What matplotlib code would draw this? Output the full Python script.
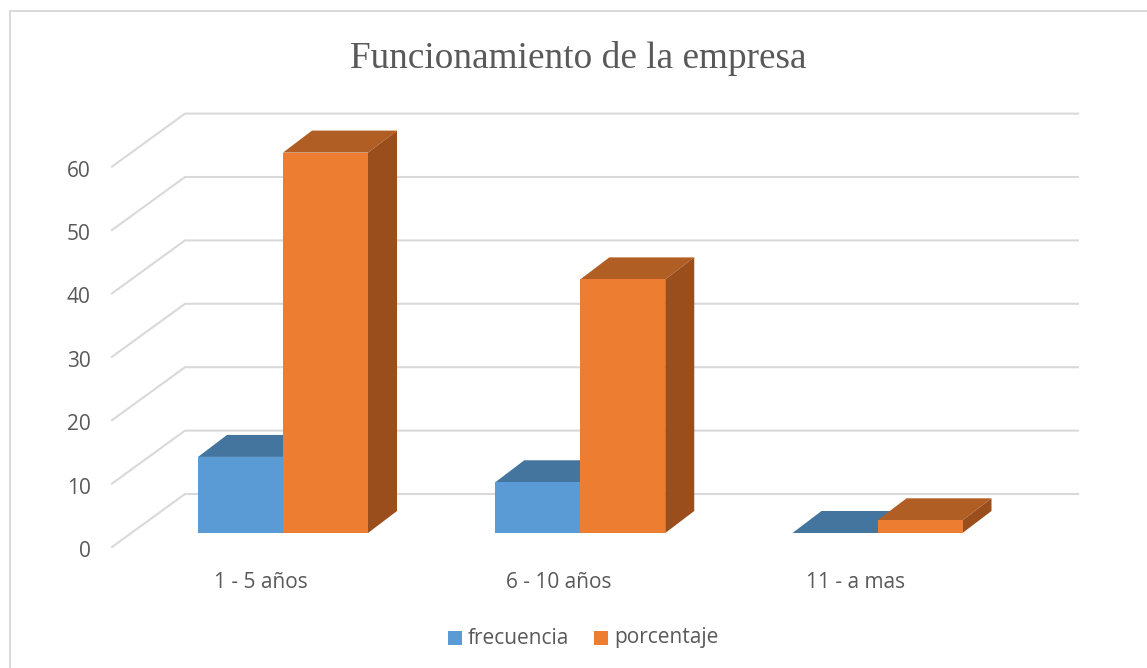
import matplotlib
matplotlib.use("Agg")
import matplotlib.pyplot as plt
from matplotlib.lines import Line2D
from matplotlib.patches import Polygon, Rectangle

W, H = 1147, 668
categories = ["1 - 5 años", "6 - 10 años", "11 - a mas"]
frecuencia = [12, 8, 0]
porcentaje = [60, 40, 2]
y_ticks = [0, 10, 20, 30, 40, 50, 60]

PX_X = 297.25
PX_Y = 6.34
X_LEFT, X_RIGHT, Y_BOTTOM, Y_TOP = 112, 1078, 551, 113
BAR_W = 85 / PX_X
DX = 29 / PX_X
DY = 22 / PX_Y
SHIFT = -14 / PX_Y
WALL_DX = 73 / PX_X
WALL_DY = 53 / PX_Y

fig = plt.figure(figsize=(W / 100, H / 100), dpi=100, facecolor="white")
fig.add_artist(Line2D([1, 9.5 / W, 9.5 / W], [1 - 11 / H, 1 - 11 / H, 0], transform=fig.transFigure,
                      color="#D9D9D9", lw=1.4, solid_joinstyle="miter"))
ax = fig.add_axes([X_LEFT / W, 1 - Y_BOTTOM / H, (X_RIGHT - X_LEFT) / W, (Y_BOTTOM - Y_TOP) / H])
ax.patch.set_alpha(0)
x0 = (X_LEFT - 283) / PX_X
x1 = (X_RIGHT - 283) / PX_X
for s in ax.spines.values():
    s.set_visible(False)

for v in y_ticks:
    b = v + SHIFT
    ax.plot([x0, x0 + WALL_DX, x1], [b, b + WALL_DY, b + WALL_DY], color="#D9D9D9", lw=1.5,
            clip_on=False, zorder=1, solid_joinstyle="miter")


def bar3d(x, v, front, top, side, show_side=True):
    ax.add_patch(Polygon([(x, v), (x + BAR_W, v), (x + BAR_W + DX, v + DY), (x + DX, v + DY)],
                         fc=top, ec="none", zorder=3))
    if show_side:
        ax.add_patch(Polygon([(x + BAR_W, 0), (x + BAR_W + DX, DY), (x + BAR_W + DX, v + DY), (x + BAR_W, v)],
                             fc=side, ec="none", zorder=3))
    ax.bar(x, v, BAR_W, align="edge", color=front, zorder=3)


for i in range(len(categories)):
    bar3d(i - BAR_W, frecuencia[i], "#5B9BD5", "#44759F", "#3A6A94", show_side=False)
    bar3d(i, porcentaje[i], "#ED7D31", "#B15E25", "#9A4E1B")

ax.set_yticks([v + SHIFT - 2 / PX_Y for v in y_ticks], [str(v) for v in y_ticks])
ax.set_xticks([i - 22 / PX_X for i in range(len(categories))], categories)
ax.set_xlim(x0, x1)
ax.set_ylim((533 - Y_BOTTOM) / PX_Y, (533 - Y_TOP) / PX_Y)
ax.tick_params(axis="both", length=0, labelsize=15, labelcolor="#595959")
ax.tick_params(axis="x", pad=15)
ax.tick_params(axis="y", pad=15.5)
for t in ax.get_xticklabels() + ax.get_yticklabels():
    t.set_fontfamily("Open Sans")

fig.text(578.5 / W, 1 - 59 / H, "Funcionamiento de la empresa", ha="center", va="center",
         fontsize=26.8, family="Liberation Serif", color="#595959")

fig.add_artist(Rectangle((448 / W, 1 - 645 / H), 14 / W, 14 / H, transform=fig.transFigure, fc="#5B9BD5", ec="none"))
fig.text(468 / W, 1 - 638 / H, "frecuencia", ha="left", va="center", fontsize=15, family="Open Sans", color="#595959")
fig.add_artist(Rectangle((594 / W, 1 - 645 / H), 14 / W, 14 / H, transform=fig.transFigure, fc="#ED7D31", ec="none"))
fig.text(614 / W, 1 - 638 / H, "porcentaje", ha="left", va="center", fontsize=15, family="Open Sans", color="#595959")

fig.savefig("out.png", dpi=100)
